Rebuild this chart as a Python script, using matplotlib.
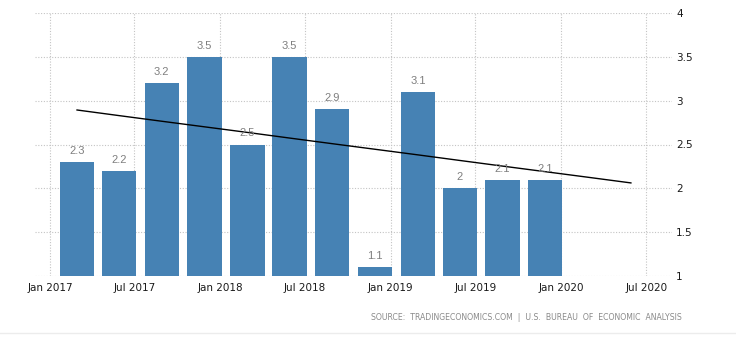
import numpy as np
import pandas as pd
import matplotlib
matplotlib.use('Agg')
import matplotlib.pyplot as plt
import matplotlib.dates as mdates
from matplotlib.lines import Line2D

# quarterly growth rate, Q1 2017 .. Q4 2019
quarters = ['2017Q1', '2017Q2', '2017Q3', '2017Q4',
            '2018Q1', '2018Q2', '2018Q3', '2018Q4',
            '2019Q1', '2019Q2', '2019Q3', '2019Q4']
values = [2.3, 2.2, 3.2, 3.5, 2.5, 3.5, 2.9, 1.1, 3.1, 2.0, 2.1, 2.1]
trend_quarters = pd.period_range('2017Q1', '2020Q2', freq='Q')
yticks = [1, 1.5, 2, 2.5, 3, 3.5, 4]
xticks = ['2017-01-01', '2017-07-01', '2018-01-01', '2018-07-01',
          '2019-01-01', '2019-07-01', '2020-01-01', '2020-07-01']
source = 'SOURCE:  TRADINGECONOMICS.COM  |  U.S.  BUREAU  OF  ECONOMIC  ANALYSIS'

def centers(periods):       # bar centre sits ~58 days into the quarter
    return pd.PeriodIndex(periods, freq='Q').start_time + pd.Timedelta(days=58)

fig = plt.figure(figsize=(7.36, 3.49), dpi=100)
ax = fig.add_axes([35/736, 1-276/349, (672-35)/736, (276-13)/349])

xb = centers(quarters)
ax.bar(xb, [v - 1 for v in values], bottom=1, width=73, color='#4682b4', zorder=2)
for x, v in zip(xb, values):
    ax.annotate('%g' % v, (x, v), xytext=(0, 5.8), textcoords='offset points',
                ha='center', va='baseline', fontsize=8, color='#7f7f7f',
                family='Liberation Sans', zorder=4)

# linear trend over the bars, extended two quarters ahead
k = np.arange(len(values))
p = np.polyfit(k, values, 1)
kt = np.arange(len(trend_quarters))
ax.plot(centers(trend_quarters.astype(str)), np.polyval(p, kt), color='black', lw=1, zorder=3)

ax.set_ylim(1, 4)
ax.set_xlim(pd.Timestamp('2016-11-30'), pd.Timestamp('2020-08-25'))
ax.set_yticks(yticks)
ax.set_yticklabels(['%g' % t for t in yticks])
ax.set_xticks(pd.to_datetime(xticks))
ax.xaxis.set_major_formatter(mdates.DateFormatter('%b %Y'))
ax.yaxis.tick_right()
ax.tick_params(axis='both', length=0, labelsize=7.5, labelcolor='#1a1a1a')
ax.tick_params(axis='y', pad=3)
ax.tick_params(axis='x', pad=5)
ax.grid(True, ls=(0, (1, 1.5)), color='#c4c4c4', lw=0.8, zorder=0)
for s in ax.spines.values():
    s.set_visible(False)

fig.text(682/736, 1-318/349, source, ha='right', va='center', fontsize=5.6,
         color='#8a8a8a', family='DejaVu Sans')
fig.add_artist(Line2D([0, 1], [1-333/349]*2, color='#ececec', lw=1))

fig.savefig('out.png', dpi=100)
